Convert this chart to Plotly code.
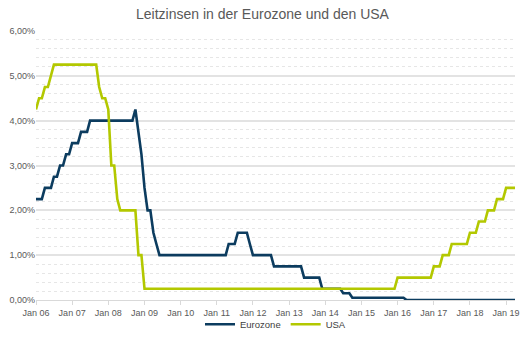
import pandas as pd
import plotly.graph_objects as go

months = pd.date_range("2006-01-01", "2019-04-01", freq="MS")

eurozone = (
    [2.25, 2.25, 2.25, 2.5, 2.5, 2.5, 2.75, 2.75, 3.0, 3.0, 3.25, 3.25]      # 2006
    + [3.5, 3.5, 3.5, 3.75, 3.75, 3.75, 4.0, 4.0, 4.0, 4.0, 4.0, 4.0]       # 2007
    + [4.0, 4.0, 4.0, 4.0, 4.0, 4.0, 4.0, 4.0, 4.0, 4.25, 3.75, 3.25]       # 2008
    + [2.5, 2.0, 2.0, 1.5, 1.25, 1.0, 1.0, 1.0, 1.0, 1.0, 1.0, 1.0]         # 2009
    + [1.0, 1.0, 1.0, 1.0, 1.0, 1.0, 1.0, 1.0, 1.0, 1.0, 1.0, 1.0]          # 2010
    + [1.0, 1.0, 1.0, 1.0, 1.25, 1.25, 1.25, 1.5, 1.5, 1.5, 1.5, 1.25]      # 2011
    + [1.0, 1.0, 1.0, 1.0, 1.0, 1.0, 1.0, 0.75, 0.75, 0.75, 0.75, 0.75]     # 2012
    + [0.75, 0.75, 0.75, 0.75, 0.75, 0.5, 0.5, 0.5, 0.5, 0.5, 0.5, 0.25]    # 2013
    + [0.25, 0.25, 0.25, 0.25, 0.25, 0.25, 0.15, 0.15, 0.15, 0.05, 0.05, 0.05]  # 2014
    + [0.05, 0.05, 0.05, 0.05, 0.05, 0.05, 0.05, 0.05, 0.05, 0.05, 0.05, 0.05]  # 2015
    + [0.05, 0.05, 0.05, 0.0, 0.0, 0.0, 0.0, 0.0, 0.0, 0.0, 0.0, 0.0]       # 2016
    + [0.0, 0.0, 0.0, 0.0, 0.0, 0.0, 0.0, 0.0, 0.0, 0.0, 0.0, 0.0]          # 2017
    + [0.0, 0.0, 0.0, 0.0, 0.0, 0.0, 0.0, 0.0, 0.0, 0.0, 0.0, 0.0]          # 2018
    + [0.0, 0.0, 0.0, 0.0]                                                  # 2019
)

usa = (
    [4.25, 4.5, 4.5, 4.75, 4.75, 5.0, 5.25, 5.25, 5.25, 5.25, 5.25, 5.25]   # 2006
    + [5.25, 5.25, 5.25, 5.25, 5.25, 5.25, 5.25, 5.25, 5.25, 4.75, 4.5, 4.5]  # 2007
    + [4.25, 3.0, 3.0, 2.25, 2.0, 2.0, 2.0, 2.0, 2.0, 2.0, 1.0, 1.0]        # 2008
    + [0.25] * 12                                                           # 2009
    + [0.25] * 12                                                           # 2010
    + [0.25] * 12                                                           # 2011
    + [0.25] * 12                                                           # 2012
    + [0.25] * 12                                                           # 2013
    + [0.25] * 12                                                           # 2014
    + [0.25] * 12                                                           # 2015
    + [0.5] * 12                                                            # 2016
    + [0.75, 0.75, 0.75, 1.0, 1.0, 1.0, 1.25, 1.25, 1.25, 1.25, 1.25, 1.25]  # 2017
    + [1.5, 1.5, 1.5, 1.75, 1.75, 1.75, 2.0, 2.0, 2.0, 2.25, 2.25, 2.25]    # 2018
    + [2.5, 2.5, 2.5, 2.5]                                                  # 2019
)

series_names = ["Eurozone", "USA"]
colors = ["#0c3c5f", "#b3c800"]
title_text = "Leitzinsen in der Eurozone und den USA"

fig = go.Figure()
for name, vals, col in zip(series_names, [eurozone, usa], colors):
    fig.add_trace(go.Scatter(x=months, y=vals, mode="lines", name=name,
                             line=dict(color=col, width=2.6)))

fig.update_layout(
    width=525, height=339,
    margin=dict(l=36, r=10, t=31, b=39, autoexpand=False),
    paper_bgcolor="white", plot_bgcolor="white",
    separators=",.",
    font=dict(family="Liberation Sans, Arial, sans-serif", color="#595959", size=9),
    title=dict(text=title_text, x=0.5, xanchor="center", y=0.958, yanchor="middle",
               font=dict(size=14, color="#595959")),
    showlegend=True,
    legend=dict(orientation="h", x=0.5, xanchor="center", y=-0.09, yanchor="middle",
                font=dict(size=9.5, color="#404040"), itemwidth=30,
                bgcolor="rgba(0,0,0,0)"),
    xaxis=dict(
        type="date", range=["2006-01-01", "2019-04-01"],
        tick0="2006-01-01", dtick="M12", tickformat="%b %y",
        showgrid=False, showline=True, linecolor="#d9d9d9", linewidth=1,
        ticks="outside", ticklen=4, tickcolor="#d9d9d9",
        tickfont=dict(size=9, color="#595959"), zeroline=False,
    ),
    yaxis=dict(
        range=[0, 6], dtick=1, tickformat=".2f", ticksuffix="%",
        showgrid=True, gridcolor="#e3e3e3", gridwidth=1.5,
        zeroline=False, showline=False, ticks="",
        tickfont=dict(size=9, color="#595959"),
        minor=dict(dtick=0.2, showgrid=True, gridcolor="#e6e6e6",
                   griddash="dot", gridwidth=1),
    ),
)

fig.write_html("out.html")
